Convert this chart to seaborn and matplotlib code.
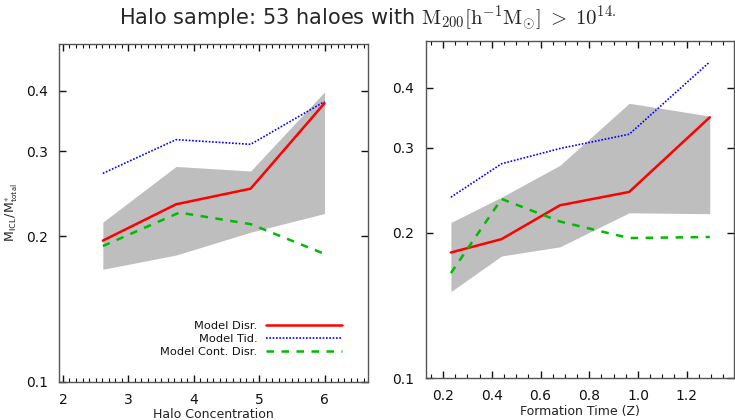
import matplotlib
matplotlib.use("Agg")
import matplotlib.pyplot as plt
import seaborn as sns
import pandas as pd
import numpy as np
from matplotlib.ticker import FixedLocator, MultipleLocator, NullLocator, FixedFormatter

# ---- data: left panel (halo concentration) ----
conc = [2.61, 3.73, 4.87, 6.0]
conc_green = [2.61, 3.78, 4.87, 6.0]
conc_disr = [0.196, 0.233, 0.251, 0.377]
conc_tid = [0.270, 0.317, 0.310, 0.380]
conc_cont = [0.191, 0.224, 0.212, 0.184]
conc_band_hi = [0.214, 0.279, 0.273, 0.398]
conc_band_lo = [0.171, 0.183, 0.204, 0.223]

# ---- data: right panel (formation time) ----
zf = [0.232, 0.44, 0.68, 0.964, 1.295]
zf_disr = [0.182, 0.194, 0.228, 0.243, 0.347]
zf_tid = [0.237, 0.278, 0.299, 0.320, 0.452]
zf_cont = [0.165, 0.235, 0.211, 0.195, 0.196]
zf_band_hi = [0.210, 0.237, 0.276, 0.371, 0.349]
zf_band_lo = [0.151, 0.179, 0.187, 0.220, 0.219]

labels = ["Model Disr.", "Model Tid.", "Model Cont. Disr."]
yticks = [0.1, 0.2, 0.3, 0.4]
ytick_labels = ["0.1", "0.2", "0.3", "0.4"]

sns.set_theme(style="ticks")
plt.rcParams["font.family"] = ["DejaVu Sans"]
plt.rcParams["mathtext.fontset"] = "cm"
plt.rcParams["xtick.minor.visible"] = True

fig = plt.figure(figsize=(7.35, 4.2), dpi=100)
axL = fig.add_axes([0.0803, 0.0905, 0.420, 0.805])
axR = fig.add_axes([0.579, 0.100, 0.4195, 0.803])

def draw(ax, x, xg, disr, tid, cont, hi, lo, legend):
    ax.fill_between(x, lo, hi, color="#bebebe", linewidth=0, zorder=1)
    df1 = pd.DataFrame({"x": x, "y": disr})
    df2 = pd.DataFrame({"x": x, "y": tid})
    df3 = pd.DataFrame({"x": xg, "y": cont})
    sns.lineplot(data=df1, x="x", y="y", ax=ax, color="#ff0000", lw=1.8,
                 label=labels[0] if legend else None, zorder=3)
    sns.lineplot(data=df2, x="x", y="y", ax=ax, color="#0000ff", lw=1.2,
                 linestyle=(0, (1, 1)), label=labels[1] if legend else None, zorder=3)
    sns.lineplot(data=df3, x="x", y="y", ax=ax, color="#00bb00", lw=1.8,
                 linestyle=(0, (3, 3)), label=labels[2] if legend else None, zorder=3)
    ax.set_yscale("log")
    ax.set_ylim(0.1, 0.5)
    ax.yaxis.set_major_locator(FixedLocator(yticks))
    ax.yaxis.set_major_formatter(FixedFormatter(ytick_labels))
    ax.yaxis.set_minor_locator(NullLocator())
    ax.tick_params(axis="both", which="both", direction="in", top=True, right=True,
                   labelsize=10, color="#111111", labelcolor="#111111")
    ax.tick_params(axis="both", which="major", length=5, width=1.0, pad=8)
    ax.tick_params(axis="x", which="minor", length=3, width=0.8)
    for s in ax.spines.values():
        s.set_color("#555555")
        s.set_linewidth(1.0)
    ax.set_ylabel("")

draw(axL, conc, conc_green, conc_disr, conc_tid, conc_cont, conc_band_hi, conc_band_lo, True)
draw(axR, zf, zf, zf_disr, zf_tid, zf_cont, zf_band_hi, zf_band_lo, False)

axL.set_xlim(1.94, 6.66)
axL.xaxis.set_major_locator(MultipleLocator(1))
axL.xaxis.set_minor_locator(MultipleLocator(0.1))
axL.set_xlabel("Halo Concentration", fontsize=9, labelpad=1, color="#222222")
axL.set_ylabel(r"M$_{\mathsf{ICL}}$/M$^{*}_{\mathsf{total}}$", fontsize=9, color="#222222", labelpad=4)

axR.set_xlim(0.128, 1.394)
axR.xaxis.set_major_locator(FixedLocator([0.2, 0.4, 0.6, 0.8, 1.0, 1.2]))
axR.xaxis.set_major_formatter(FixedFormatter(["0.2", "0.4", "0.6", "0.8", "1.0", "1.2"]))
axR.xaxis.set_minor_locator(MultipleLocator(0.05))
axR.set_xlabel("Formation Time (Z)", fontsize=9, labelpad=1, color="#222222")

leg = axL.legend(loc="lower right", bbox_to_anchor=(0.93, 0.06), frameon=False,
                 markerfirst=False, fontsize=8.2, handlelength=6.6, handletextpad=0.8,
                 labelspacing=0.25, borderaxespad=0)
for t in leg.get_texts():
    t.set_ha("right")
    t.set_color("#111111")
leg._legend_box.align = "right"
for vp in leg._legend_box.get_children()[1].get_children():
    vp.align = "right"

fig.text(0.5, 0.955, r"Halo sample: 53 haloes with $\mathrm{M_{200}[h^{-1}M_{\odot}]}\;>\;10^{14.}$",
         ha="center", va="center", fontsize=15)

fig.savefig("out.png", dpi=100)
